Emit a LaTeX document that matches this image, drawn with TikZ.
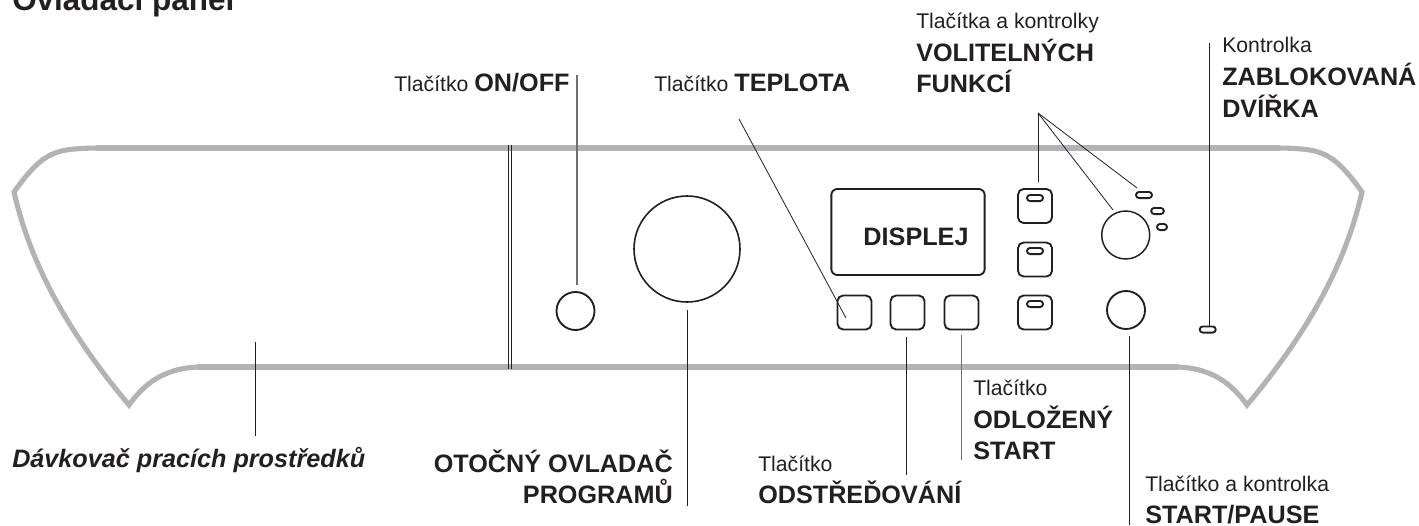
\documentclass[tikz,border=0pt]{standalone}
\usepackage{fontspec}
\setmainfont{Liberation Sans}
\definecolor{ink}{HTML}{231F20}
\definecolor{panelgray}{HTML}{B1B3B6}
\newcommand{\reg}{\fontsize{15.9}{19}\selectfont\mdseries}
\newcommand{\bld}{\fontsize{18.9}{23}\selectfont\bfseries}
\tikzset{
  panelcurve/.style={draw=panelgray,line width=3.8pt,line join=miter},
  panelline/.style={draw=panelgray,line width=4.3pt},
  divider/.style={draw=ink,line width=0.6pt},
  leader/.style={draw=ink,line width=0.6pt},
  softleader/.style={draw=ink!65,line width=0.8pt},
  ctrl/.style={draw=ink,line width=1.4pt,inner sep=0pt,fill=white},
  roundbtn/.style={ctrl,circle},
  squarebtn/.style={ctrl,rectangle,rounded corners=4.2pt,minimum width=25.5pt,minimum height=25.5pt},
  slot/.style={draw=ink,line width=1.4pt,inner sep=0pt,rectangle,rounded corners=2.3pt,minimum height=4.6pt},
  lbl/.style={text=ink,inner sep=0pt,anchor=base west,align=left},
  rlbl/.style={text=ink,inner sep=0pt,anchor=base east,font=\bld},
}
\begin{document}
\begin{tikzpicture}[x=0.75pt,y=-0.75pt]
\useasboundingbox (0,0) rectangle (1419,525);
\clip (0,0) rectangle (1419,525);
% panel outline
\draw[panelcurve] (96,148) .. controls (56,149) and (44,150) .. (14,192)
  .. controls (30,262) and (66,330) .. (129,405)
  .. controls (148,378) and (171,368) .. (198,367);
\draw[panelcurve] (1178,367) .. controls (1205,368) and (1228,378) .. (1247,405)
  .. controls (1310,330) and (1346,262) .. (1362,192)
  .. controls (1332,150) and (1320,149) .. (1280,148);
\draw[panelline] (96,148) -- (1280,148);
\draw[panelline,line width=5.1pt] (197,367) -- (510,367);
\draw[panelline,line width=4pt] (510,367) -- (1178,367);
\coordinate (divAtop) at (508.5,145); \coordinate (divAbot) at (508.5,369);
\coordinate (divBtop) at (511.5,145); \coordinate (divBbot) at (511.5,369);
\draw[divider] (divAtop) -- (divAbot);
\draw[divider] (divBtop) -- (divBbot);
% controls
\node[roundbtn,minimum size=28.5pt] (onoff) at (575.5,311) {};
\node[roundbtn,minimum size=79.5pt,line width=1.2pt] (dial) at (687,249) {};
\node[ctrl,rectangle,rounded corners=4.5pt,minimum width=115pt,minimum height=64.5pt] (display) at (908,232) {};
\node[text=ink,inner sep=0pt,font=\bld,anchor=base] (displabel) at (916,245.5) {DISPLEJ};
\node[squarebtn] (temp) at (854.5,312.5) {};
\node[squarebtn] (spin) at (907.5,312.5) {};
\node[squarebtn] (delay) at (961.5,312.5) {};
\node[squarebtn] (opt1) at (1035,206) {};
\node[squarebtn] (opt2) at (1035,259.5) {};
\node[squarebtn] (opt3) at (1035,312.5) {};
\node[slot,minimum width=12pt] (s1) at (1035,198) {};
\node[slot,minimum width=12pt] (s2) at (1035,251) {};
\node[slot,minimum width=12pt] (s3) at (1035,304) {};
\node[roundbtn,minimum size=36pt,line width=1.1pt] (optdial) at (1125.7,235) {};
\node[roundbtn,minimum size=28.5pt] (startbtn) at (1126,310) {};
\node[slot,minimum width=12pt] (led1) at (1144,195) {};
\node[slot,minimum width=9.5pt] (led2) at (1157.5,211) {};
\node[slot,minimum width=7.5pt] (led3) at (1162,227) {};
\node[slot,minimum width=12pt] (doorled) at (1207.7,329.5) {};
% free ends of the leaders
\coordinate (apex) at (1038,113);
\coordinate (a1) at (1038,182);
\coordinate (a2) at (1113,210);
\coordinate (a3) at (1137,188);
\coordinate (tA) at (739,119); \coordinate (tB) at (846,318);
\coordinate (oA) at (577,75); \coordinate (oB) at (577,285);
\coordinate (dA) at (1209,43); \coordinate (dB) at (1209,326);
\coordinate (pA) at (687,310); \coordinate (pB) at (687,506);
\coordinate (wA) at (255,342); \coordinate (wB) at (255,436);
\coordinate (sA) at (906.5,337); \coordinate (sB) at (906.5,475);
\coordinate (lA) at (961.5,335); \coordinate (lB) at (961.5,460);
\coordinate (uA) at (1129,336); \coordinate (uB) at (1129,525);
\draw[leader] (apex) -- (a1);
\draw[leader] (apex) -- (a2);
\draw[leader] (apex) -- (a3);
\draw[leader] (tA) -- (tB);
\draw[softleader] (oA) -- (oB);
\draw[leader] (dA) -- (dB);
\draw[leader] (pA) -- (pB);
\draw[leader] (wA) -- (wB);
\draw[leader] (sA) -- (sB);
\draw[softleader] (lA) -- (lB);
\draw[leader] (uA) -- (uB);
% labels
\node[lbl,font=\fontsize{23.6}{28}\selectfont\bfseries] (title) at (12,10) {Ovládací panel};
\node[lbl] (lonoff) at (394,91) {\reg Tlačítko \bld ON/OFF};
\node[lbl] (ltemp) at (654,91) {\reg Tlačítko \bld TEPLOTA};
\node[lbl] (lopt0) at (916,28) {\reg Tlačítka a kontrolky};
\node[lbl] (lopt1) at (916,61) {\bld VOLITELNÝCH};
\node[lbl] (lopt2) at (916,92) {\bld FUNKCÍ};
\node[lbl] (ldoor0) at (1222,52) {\reg Kontrolka};
\node[lbl] (ldoor1) at (1222,85) {\bld ZABLOKOVANÁ};
\node[lbl] (ldoor2) at (1222,117) {\bld DVÍŘKA};
\node[lbl,font=\bld\itshape] (lwash) at (12,467) {Dávkovač pracích prostředků};
\node[rlbl] (lprog1) at (673,472) {OTOČNÝ OVLADAČ};
\node[rlbl] (lprog2) at (673,503) {PROGRAMŮ};
\node[lbl] (lspin0) at (758,471) {\reg Tlačítko};
\node[lbl] (lspin1) at (758,503) {\bld ODSTŘEĎOVÁNÍ};
\node[lbl] (ldel0) at (973,395) {\reg Tlačítko};
\node[lbl] (ldel1) at (973,428) {\bld ODLOŽENÝ};
\node[lbl] (ldel2) at (973,459) {\bld START};
\node[lbl] (lst0) at (1145,491) {\reg Tlačítko a kontrolka};
\node[lbl] (lst1) at (1145,523) {\bld START/PAUSE};
\end{tikzpicture}
\end{document}
